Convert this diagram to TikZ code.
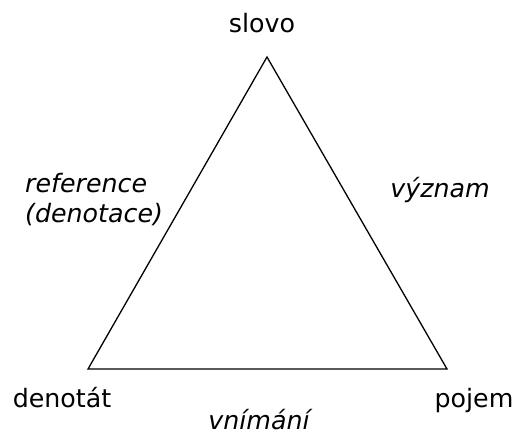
\documentclass[tikz,border=0pt]{standalone}
\usepackage{fontspec}
\setmainfont{DejaVu Sans}
\begin{document}
\begin{tikzpicture}[x=1pt,y=1pt,
  lbl/.style={inner sep=0pt,anchor=base,font=\fontsize{25.3}{30}\selectfont},
  ilbl/.style={lbl,font=\fontsize{25.3}{30}\selectfont\itshape}]
\useasboundingbox (0,0) rectangle (514,432);
\coordinate (top) at (267,375);
\coordinate (bl) at (88,63);
\coordinate (br) at (447,63);
\draw[line width=1.3pt,line join=miter] (top) -- (bl) -- (br) -- cycle;
\node[lbl] (slovo) at (262,399) {slovo};
\node[lbl] (denotat) at (62,25) {denotát};
\node[lbl] (pojem) at (474,25) {pojem};
\node[ilbl] (vnimani) at (259,3) {vnímání};
\node[ilbl] (vyznam) at (440,235) {význam};
\node[ilbl,anchor=base west] (ref) at (25,240) {reference};
\node[ilbl,anchor=base west] (denot) at (25,210) {(denotace)};
\end{tikzpicture}
\end{document}
